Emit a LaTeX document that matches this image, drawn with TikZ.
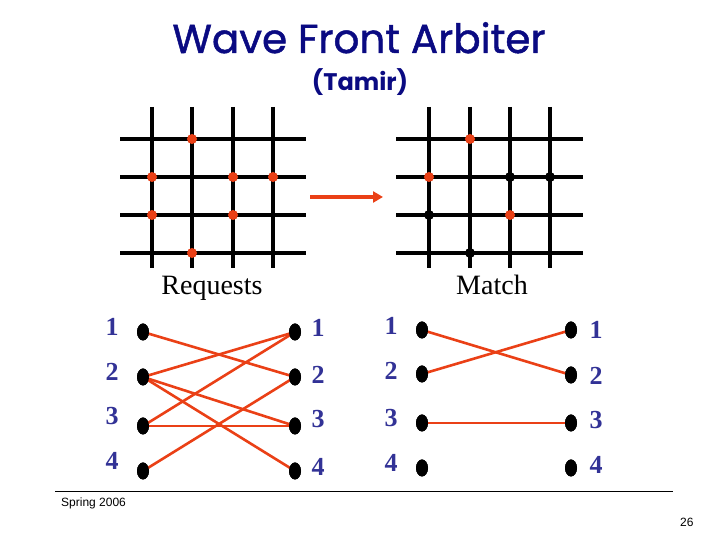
\documentclass[tikz,border=0pt]{standalone}
\usepackage{fontspec}
\setmainfont{Liberation Serif}
\newfontfamily\titlefont[FakeBold=1.2]{Poppins}
\newfontfamily\subfont{Poppins}
\newfontfamily\footfont{Liberation Sans}
\usetikzlibrary{arrows.meta}
\definecolor{redor}{RGB}{234,64,22}
\definecolor{navyt}{RGB}{10,10,130}
\definecolor{numblue}{RGB}{50,50,150}
\tikzset{
  gridline/.style={line width=4pt},
  rdot/.style={circle,fill=redor,inner sep=0pt,minimum size=10pt},
  bdot/.style={circle,fill=black,inner sep=0pt,minimum size=10pt},
  port/.style={ellipse,fill=black,inner sep=0pt,minimum width=12pt,minimum height=17pt},
  edge/.style={draw=redor,line width=2.6pt},
  num/.style={inner sep=0pt,text=numblue,font=\fontsize{26}{28}\selectfont\bfseries},
  lab/.style={inner sep=0pt,anchor=base,font=\fontsize{28}{30}\selectfont}
}
\usetikzlibrary{shapes.geometric}
\begin{document}
\begin{tikzpicture}[x=1pt,y=1pt]
\useasboundingbox (0,0) rectangle (720,540);
% title
\node[anchor=base,inner sep=0pt,text=navyt,font=\titlefont\fontsize{40.5}{42}\selectfont] (title) at (359,487) {Wave Front Arbiter};
\node[anchor=base,inner sep=0pt,text=navyt,font=\subfont\bfseries\fontsize{24}{26}\selectfont] (sub) at (360,449) {(Tamir)};
% left grid
\foreach \x in {152,192,233,273} \draw[gridline] (\x,433) -- (\x,272);
\foreach \y in {401,363,325,287} \draw[gridline] (120,\y) -- (306,\y);
% right grid
\foreach \x in {429,470,510,550} \draw[gridline] (\x,433) -- (\x,272);
\foreach \y in {401,363,325,287} \draw[gridline] (396,\y) -- (583,\y);
% left grid dots
\node[rdot] (la) at (192,401) {};
\node[rdot] (lb) at (152,363) {};
\node[rdot] (lc) at (233,363) {};
\node[rdot] (ld) at (273,363) {};
\node[rdot] (le) at (152,325) {};
\node[rdot] (lf) at (233,325) {};
\node[rdot] (lg) at (192,287) {};
% right grid dots
\node[rdot] (ra) at (470,401) {};
\node[rdot] (rb) at (429,363) {};
\node[bdot] (rc) at (510,363) {};
\node[bdot] (rd) at (550,363) {};
\node[bdot] (re) at (429,325) {};
\node[rdot] (rf) at (510,325) {};
\node[bdot] (rg) at (470,287) {};
% arrow
\coordinate (as) at (310,343);
\coordinate (ae) at (383,343);
\draw[redor,line width=3.5pt,-{Triangle[length=10pt,width=11pt]}] (as) -- (ae);
% labels
\node[lab] (req) at (212,245) {Requests};
\node[lab] (mat) at (492,245) {Match};
% requests ports
\node[port] (qa1) at (143,208) {};
\node[port] (qa2) at (143,163) {};
\node[port] (qa3) at (143,114) {};
\node[port] (qa4) at (143,69) {};
\node[port] (qb1) at (295,208) {};
\node[port] (qb2) at (295,163) {};
\node[port] (qb3) at (295,114) {};
\node[port] (qb4) at (295,69) {};
\node[num] (na1) at (112,213) {1};
\node[num] (na2) at (112,168) {2};
\node[num] (na3) at (112,124) {3};
\node[num] (na4) at (112,79) {4};
\node[num] (nb1) at (318,212) {1};
\node[num] (nb2) at (318,165) {2};
\node[num] (nb3) at (318,121) {3};
\node[num] (nb4) at (318,73) {4};
\draw[edge] (qa1.center) -- (qb2.center);
\draw[edge] (qa2.center) -- (qb1.center);
\draw[edge] (qa2.center) -- (qb3.center);
\draw[edge] (qa2.center) -- (qb4.center);
\draw[edge] (qa3.center) -- (qb1.center);
\draw[edge] (qa3.center) -- (qb3.center);
\draw[edge] (qa4.center) -- (qb2.center);
\foreach \n in {qa1,qa2,qa3,qa4,qb1,qb2,qb3,qb4} \node[port] at (\n) {};
% match ports
\node[port] (ma1) at (422,210) {};
\node[port] (ma2) at (422,166) {};
\node[port] (ma3) at (422,117) {};
\node[port] (ma4) at (422,72) {};
\node[port] (mb1) at (571,210) {};
\node[port] (mb2) at (571,165) {};
\node[port] (mb3) at (571,117) {};
\node[port] (mb4) at (571,72) {};
\node[num] (pa1) at (391,214) {1};
\node[num] (pa2) at (391,169) {2};
\node[num] (pa3) at (391,122) {3};
\node[num] (pa4) at (391,77) {4};
\node[num] (pb1) at (596,210) {1};
\node[num] (pb2) at (596,164) {2};
\node[num] (pb3) at (596,120) {3};
\node[num] (pb4) at (596,75) {4};
\draw[edge] (ma1.center) -- (mb2.center);
\draw[edge] (ma2.center) -- (mb1.center);
\draw[edge] (ma3.center) -- (mb3.center);
\foreach \n in {ma1,ma2,ma3,ma4,mb1,mb2,mb3,mb4} \node[port] at (\n) {};
% footer
\coordinate (fl) at (55,48);
\coordinate (fr) at (673,48);
\draw[line width=1pt] (fl) -- (fr);
\node[anchor=base west,inner sep=0pt,font=\footfont\fontsize{12}{14}\selectfont] (spring) at (61,33) {Spring 2006};
\node[anchor=base west,inner sep=0pt,font=\footfont\fontsize{12}{14}\selectfont] (page) at (680,13) {26};
\end{tikzpicture}
\end{document}
